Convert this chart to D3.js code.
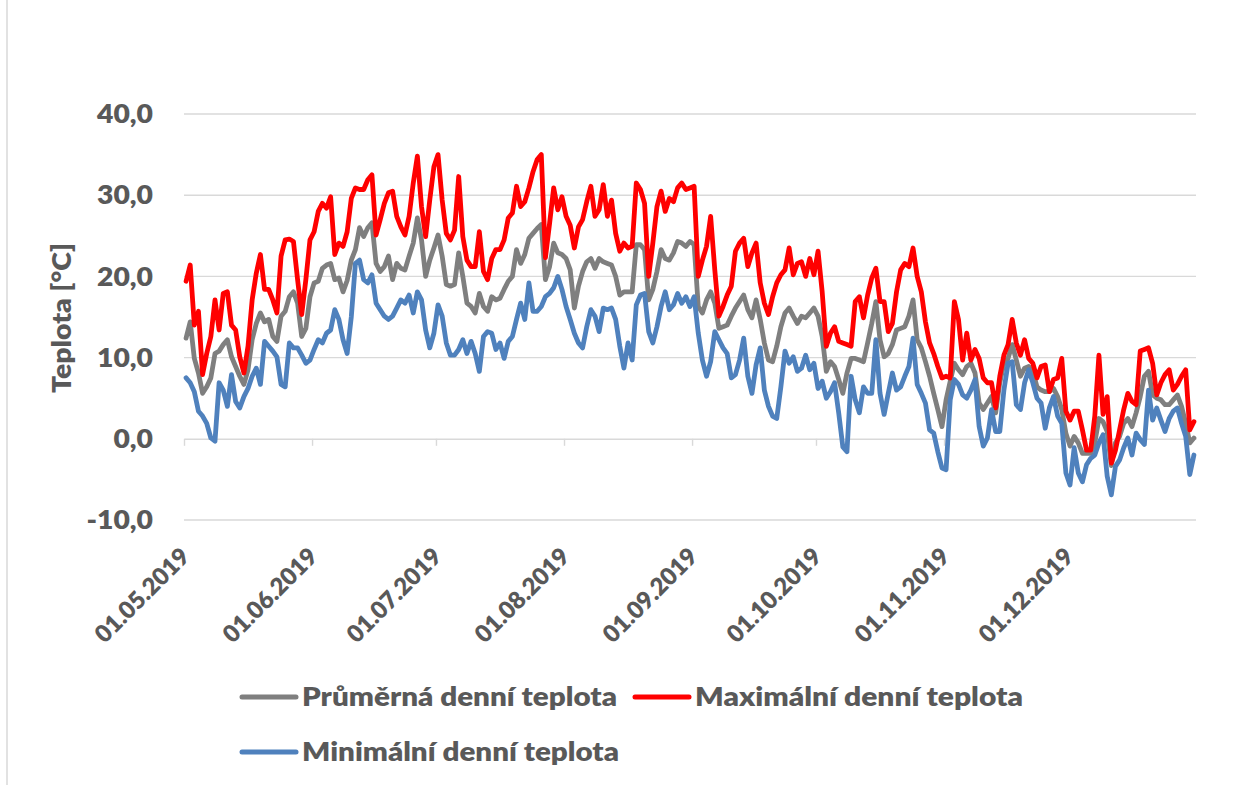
<!DOCTYPE html>
<html>
<head>
<meta charset="utf-8">
<script src="https://cdn.jsdelivr.net/npm/d3@7"></script>
<style>
  body { margin: 0; background: #fff; }
  text { font-family: Lato, "Open Sans", sans-serif; font-weight: 800; fill: #595959; }
</style>
</head>
<body>
<svg id="chart" width="1237" height="785"></svg>
<script>
// daily temperatures from 01.05.2019 to 31.12.2019
const startDay = "2019-05-01";
const monthTicks = ["01.05.2019", "01.06.2019", "01.07.2019", "01.08.2019", "01.09.2019", "01.10.2019", "01.11.2019", "01.12.2019"];
const yTicks = [-10, 0, 10, 20, 30, 40];
const seriesNames = ["Průměrná denní teplota", "Maximální denní teplota", "Minimální denní teplota"];
const seriesColors = ["#7f7f7f", "#ff0000", "#4f81bd"];

const avgTemp = [
  12.4, 14.4, 9.9, 8.1, 5.6, 6.4, 7.5, 10.5, 10.8, 11.6, 12.2, 10.1, 8.9, 7.7, 6.7, 8.5, 12.2, 14.2, 15.5, 14.4,
  14.7, 12.6, 12.0, 15.1, 15.7, 17.5, 18.1, 16.7, 12.6, 13.6, 17.5, 19.2, 19.4, 21.0, 21.4, 21.6, 19.6, 19.8, 18.1,
  19.5, 22.0,
  23.3, 26.0, 24.9, 26.0, 26.6, 21.6, 20.6, 21.2, 22.5, 19.6, 21.6, 21.0, 20.8, 22.5, 24.1, 27.2, 24.5, 20.0, 22.0, 23.5,
  25.1, 22.5, 19.0, 18.8, 19.0, 22.9, 20.0, 16.7, 16.3, 15.5, 17.9, 16.3, 15.7, 17.5, 17.1, 17.3, 18.4, 19.4, 20.0, 23.3,
  21.6, 22.7, 24.7, 25.3, 25.9, 26.4, 19.6, 21.2, 24.1, 22.9, 22.7, 22.2, 20.8, 16.1, 18.8, 20.6, 21.8, 22.2, 21.0, 22.2, 21.8,
  21.6, 21.4, 20.0, 17.7, 18.1, 18.1, 18.1, 23.9, 23.9, 23.3, 17.1, 18.4, 20.6, 23.3, 22.2, 22.0, 22.9, 24.3, 24.1, 23.7, 24.3,
  23.9, 16.3, 15.5, 17.1, 18.1, 16.7, 13.6, 13.8, 14.0, 15.1, 16.1, 16.9, 17.7, 15.9, 14.9, 17.1, 14.7, 11.8, 9.7, 9.5,
  11.4, 13.8, 15.5, 16.1, 15.1, 14.2, 15.1, 14.9, 15.5, 16.1, 15.1, 12.6, 8.3, 9.5, 8.9, 7.3, 5.6, 8.1, 9.9, 9.9, 9.7,
  9.5, 11.8, 14.2, 16.9, 12.2, 10.1, 10.5, 11.6, 13.4, 13.6, 13.8, 15.1, 17.1, 12.2, 11.2, 9.5, 7.7, 5.6, 3.6, 1.5,
  4.8, 7.1, 9.3, 8.5, 7.9, 8.9, 9.3, 8.1, 4.4, 3.6, 4.4, 5.2, 3.2, 6.9, 9.3, 9.9, 11.6, 9.7, 7.7, 8.7, 8.9,
  8.3, 6.4, 6.0, 5.8, 5.8, 6.2, 5.2, 3.6, 0.7, -0.9, 0.3, -0.5, -1.8, -1.8, -1.8, -0.5, 2.5, 2.1, 0.9, -3.3,
  -0.5, 0.3, 1.9, 2.5, 1.5, 3.2, 5.2, 7.7, 8.3, 5.4, 5.0, 4.8, 4.2, 4.2, 4.8, 5.4, 4.0, 1.9, -0.5, 0.1
];

const maxTemp = [
  19.4, 21.4, 14.0, 15.7, 7.9, 10.5, 12.6, 17.1, 13.4, 17.9, 18.1, 14.0, 13.4, 10.1, 8.1, 11.4, 17.1, 20.4, 22.7, 18.4,
  18.4, 17.1, 15.5, 22.5, 24.5, 24.6, 24.3, 19.6, 15.3, 19.6, 24.5, 25.5, 28.0, 29.0, 28.4, 29.8, 22.7, 24.1, 23.7,
  25.5, 29.6,
  30.9, 30.7, 30.7, 31.9, 32.5, 25.1, 27.0, 29.0, 30.3, 30.5, 27.4, 26.1, 25.1, 27.4, 31.5, 34.8, 28.6, 24.9, 29.4, 33.5,
  35.0, 29.4, 25.3, 24.5, 25.7, 32.3, 24.9, 22.0, 21.2, 21.2, 25.5, 20.6, 19.6, 22.2, 23.3, 23.3, 24.5, 27.2, 27.8, 31.1,
  28.6, 29.2, 30.9, 32.9, 34.4, 35.0, 22.3, 26.5, 30.9, 28.2, 29.8, 27.4, 26.3, 23.5, 26.1, 27.0, 29.2, 31.1, 27.4, 28.2, 31.3,
  27.4, 29.4, 25.3, 23.1, 24.1, 23.5, 23.7, 31.5, 30.7, 29.0, 20.0, 24.1, 28.6, 30.5, 28.0, 29.6, 29.2, 30.9, 31.5, 30.7, 30.9,
  31.1, 20.0, 22.0, 23.7, 27.4, 20.8, 15.1, 16.3, 17.7, 18.8, 23.1, 24.1, 24.7, 21.2, 22.9, 24.1, 19.2, 16.7, 15.3, 17.5,
  19.2, 20.2, 20.8, 23.5, 20.2, 21.6, 21.8, 20.0, 22.2, 20.2, 23.1, 18.1, 11.4, 13.0, 13.8, 12.0, 11.8, 11.6, 11.4, 16.9, 17.5,
  14.9, 17.7, 19.8, 21.0, 16.9, 16.9, 13.2, 14.2, 18.1, 20.8, 21.6, 21.2, 23.5, 20.0, 18.1, 14.4, 11.8, 10.5, 8.9, 7.5,
  7.7, 7.5, 16.9, 14.7, 9.7, 13.0, 9.7, 11.0, 9.9, 7.5, 6.9, 6.9, 3.8, 7.7, 10.3, 11.6, 14.7, 11.8, 10.3, 12.2, 9.9,
  9.3, 7.5, 8.9, 9.1, 5.8, 7.3, 7.5, 9.9, 3.4, 2.3, 3.4, 3.4, 1.1, -1.4, -1.4, 2.8, 10.3, 3.0, 5.2, -3.0,
  -1.4, 1.1, 3.6, 5.6, 4.6, 4.2, 10.8, 11.0, 11.2, 9.3, 5.4, 6.9, 7.9, 8.5, 6.0, 6.7, 7.7, 8.5, 1.1, 2.1
];

const minTemp = [
  7.5, 6.9, 5.8, 3.4, 2.8, 1.9, 0.1, -0.3, 6.9, 6.0, 4.0, 7.9, 4.6, 3.8, 5.2, 6.2, 7.7, 8.7, 6.7, 12.0,
  11.4, 10.8, 10.1, 6.7, 6.4, 11.8, 11.2, 11.2, 10.3, 9.3, 9.7, 11.0, 12.2, 11.8, 13.0, 13.4, 15.9, 14.7, 12.2,
  10.5, 15.0,
  21.6, 22.0, 19.6, 19.2, 20.2, 16.7, 15.9, 15.1, 14.7, 15.1, 16.1, 17.1, 16.7, 17.7, 15.5, 18.1, 17.1, 13.4, 11.2, 13.0,
  16.5, 15.1, 11.8, 10.3, 10.3, 11.0, 12.2, 10.5, 12.0, 10.5, 8.3, 12.6, 13.2, 13.0, 11.0, 11.8, 9.9, 12.0, 12.6, 14.7,
  16.7, 14.7, 19.2, 15.7, 15.7, 16.3, 17.5, 17.9, 18.6, 20.0, 18.4, 16.3, 14.7, 13.0, 11.8, 11.2, 13.8, 15.9, 15.1, 13.2, 16.1,
  15.9, 16.1, 14.7, 11.4, 8.7, 11.8, 9.7, 16.5, 17.7, 17.9, 13.2, 11.8, 13.8, 16.3, 18.1, 15.9, 16.5, 17.9, 16.7, 17.5, 16.3,
  17.5, 13.0, 9.7, 7.7, 9.5, 13.2, 12.2, 11.2, 10.5, 7.5, 7.9, 9.7, 12.4, 7.7, 5.6, 9.1, 11.2, 6.0, 4.0, 2.8,
  2.5, 6.4, 10.8, 9.3, 10.1, 8.3, 8.7, 10.3, 8.5, 9.3, 6.2, 7.1, 5.0, 5.8, 6.9, 3.2, -1.0, -1.6, 7.7, 4.8, 3.2,
  6.4, 5.6, 5.6, 12.2, 5.6, 3.0, 5.6, 8.1, 6.0, 6.4, 7.7, 8.9, 12.4, 6.7, 5.6, 4.4, 1.1, 0.7, -1.6, -3.6,
  -3.8, 4.8, 7.3, 6.7, 5.4, 5.0, 6.0, 7.3, 1.5, -0.9, 0.1, 3.6, 0.9, 0.9, 6.0, 9.3, 9.5, 4.2, 3.6, 6.9, 8.5,
  6.9, 5.0, 4.4, 1.3, 3.8, 5.2, 2.8, 1.9, -4.2, -5.7, -1.1, -4.2, -5.3, -3.2, -2.4, -2.0, -0.5, 0.5, -4.6, -6.9,
  -3.4, -2.6, -1.1, 0.1, -2.0, 0.7, -0.1, -0.7, 6.0, 2.3, 3.8, 2.3, 0.9, 2.5, 3.4, 3.8, 1.9, 0.3, -4.4, -2.0
];

const svg = d3.select("#chart");
const gridColor = "#d9d9d9";

const parseTick = d3.utcParse("%d.%m.%Y");
const first = d3.utcParse("%Y-%m-%d")(startDay);
const nDays = avgTemp.length;
const days = d3.range(nDays).map(i => d3.utcDay.offset(first, i));

const x = d3.scaleUtc()
  .domain([first, d3.utcDay.offset(first, nDays)])
  .range([184, 1196]);
const y = d3.scaleLinear().domain([-10, 40]).range([520, 114]);

const czech = d3.formatLocale({ decimal: ",", thousands: " ", grouping: [3], currency: ["", " Kč"], minus: "-" });
const fmt = czech.format(".1f");

// chart border (left edge visible)
svg.append("line")
  .attr("x1", 7).attr("x2", 7).attr("y1", 0).attr("y2", 785)
  .attr("stroke", gridColor).attr("stroke-width", 1.5);

// horizontal gridlines
svg.append("g").selectAll("line")
  .data(yTicks.filter(d => d !== 0))
  .enter().append("line")
  .attr("x1", 184).attr("x2", 1196)
  .attr("y1", d => y(d)).attr("y2", d => y(d))
  .attr("stroke", gridColor).attr("stroke-width", 1.4);

// x axis on zero line
const xAxis = d3.axisBottom(x)
  .tickValues(monthTicks.map(parseTick))
  .tickSize(7).tickSizeOuter(0)
  .tickFormat("");
const xg = svg.append("g").attr("transform", `translate(0,${y(0)})`).call(xAxis);
xg.select(".domain").attr("stroke", gridColor).attr("stroke-width", 1.4);
xg.selectAll(".tick line").attr("stroke", gridColor).attr("stroke-width", 1.4);

// month labels, low position, rotated
svg.append("g").selectAll("text")
  .data(monthTicks)
  .enter().append("text")
  .attr("x", d => x(parseTick(d)) + 7)
  .attr("y", 558)
  .attr("text-anchor", "end")
  .attr("font-size", 24)
  .attr("textLength", 122)
  .attr("lengthAdjust", "spacingAndGlyphs")
  .attr("transform", d => `rotate(-45, ${x(parseTick(d)) + 7}, 558)`)
  .text(d => d);

// y tick labels
const yLab = svg.append("g").selectAll("text")
  .data(yTicks)
  .enter().append("text")
  .attr("x", 153)
  .attr("y", d => y(d))
  .attr("dy", "0.36em")
  .attr("text-anchor", "end")
  .attr("font-size", 25.5)
  .text(d => fmt(d));
const ref = yLab.filter(d => d === 40).node().getComputedTextLength();
const k = 56 / ref;
yLab.each(function () {
  const w = this.getComputedTextLength();
  d3.select(this).attr("textLength", w * k).attr("lengthAdjust", "spacingAndGlyphs");
});

// y axis title
svg.append("text")
  .attr("transform", "translate(71,318) rotate(-90)")
  .attr("text-anchor", "middle")
  .attr("font-size", 27)
  .attr("textLength", 150)
  .attr("lengthAdjust", "spacingAndGlyphs")
  .text("Teplota [°C]");

// series lines
const mid = i => x(d3.utcHour.offset(days[i], 12));
const line = d3.line().x((d, i) => mid(i)).y(d => y(d));
[avgTemp, maxTemp, minTemp].forEach((s, j) => {
  svg.append("path")
    .datum(s)
    .attr("d", line)
    .attr("fill", "none")
    .attr("stroke", seriesColors[j])
    .attr("stroke-width", 4.8)
    .attr("stroke-linejoin", "round")
    .attr("stroke-linecap", "round");
});

// legend
const legendItems = [
  { x: 242, y: 697, w: 315 },
  { x: 635, y: 697, w: 328 },
  { x: 242, y: 752, w: 317 }
];
legendItems.forEach((it, j) => {
  svg.append("line")
    .attr("x1", it.x).attr("x2", it.x + 54)
    .attr("y1", it.y).attr("y2", it.y)
    .attr("stroke", seriesColors[j]).attr("stroke-width", 5)
    .attr("stroke-linecap", "round");
  svg.append("text")
    .attr("x", it.x + 60).attr("y", it.y + 9)
    .attr("font-size", 27)
    .attr("textLength", it.w)
    .attr("lengthAdjust", "spacingAndGlyphs")
    .text(seriesNames[j]);
});
</script>
</body>
</html>
